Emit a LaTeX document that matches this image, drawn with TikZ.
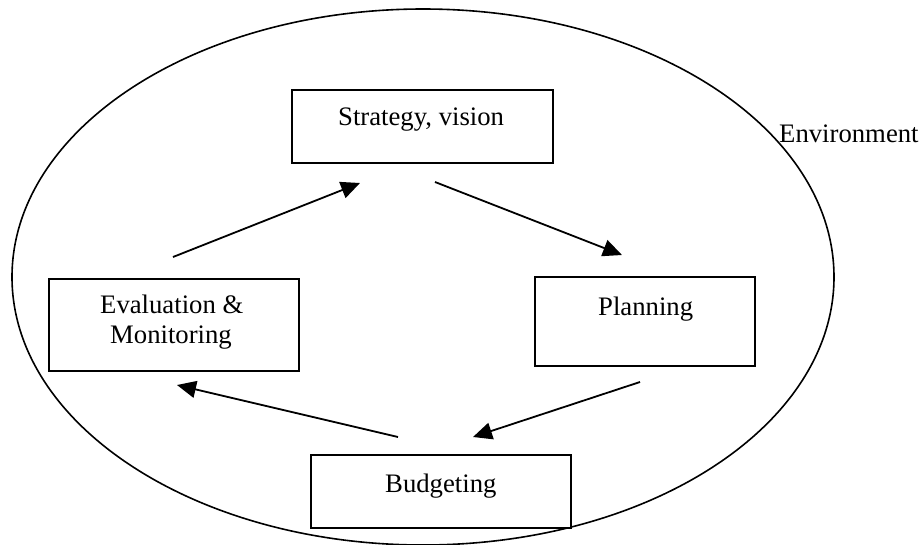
\documentclass[tikz,border=0pt]{standalone}
\usepackage{fontspec}
\setmainfont{Liberation Serif}
\usetikzlibrary{arrows.meta}
\tikzset{
  box/.style={draw, line width=1.8pt, fill=white, inner sep=0pt},
  lbl/.style={font=\fontsize{26.7}{30.5}\selectfont, inner sep=0pt, anchor=base west},
  flow/.style={line width=1.8pt, -{Triangle[length=19pt,width=17pt]}},
  env/.style={line width=1.6pt}
}
\begin{document}
\begin{tikzpicture}[x=1pt,y=-1pt]
\useasboundingbox (0,0) rectangle (924,544);
\draw[env] (423,277) ellipse [x radius=411, y radius=268];
% boxes
\node[box, minimum width=261pt, minimum height=73pt] (strat) at (422.5,126.5) {};
\node[box, minimum width=250pt, minimum height=92pt] (eval) at (174,325) {};
\node[box, minimum width=220pt, minimum height=89pt] (plan) at (645,321.5) {};
\node[box, minimum width=260pt, minimum height=73pt] (budg) at (441,491.5) {};
% labels
\node[lbl] (stratt) at (338,125) {Strategy, vision};
\node[lbl] (evalt) at (100,313) {Evaluation \&};
\node[lbl] (evalt2) at (110,343) {Monitoring};
\node[lbl] (plant) at (598,315) {Planning};
\node[lbl] (budgt) at (385,492) {Budgeting};
\node[lbl] (envt) at (779,142.5) {Environment};
% arrow ends
\coordinate (a1s) at (173,257); \coordinate (a1e) at (360,183);
\coordinate (a2s) at (435,182); \coordinate (a2e) at (622,255);
\coordinate (a3s) at (640,382); \coordinate (a3e) at (473,437);
\coordinate (a4s) at (398,437); \coordinate (a4e) at (177,385);
\draw[flow] (a1s) -- (a1e);
\draw[flow] (a2s) -- (a2e);
\draw[flow] (a3s) -- (a3e);
\draw[flow] (a4s) -- (a4e);
\end{tikzpicture}
\end{document}
